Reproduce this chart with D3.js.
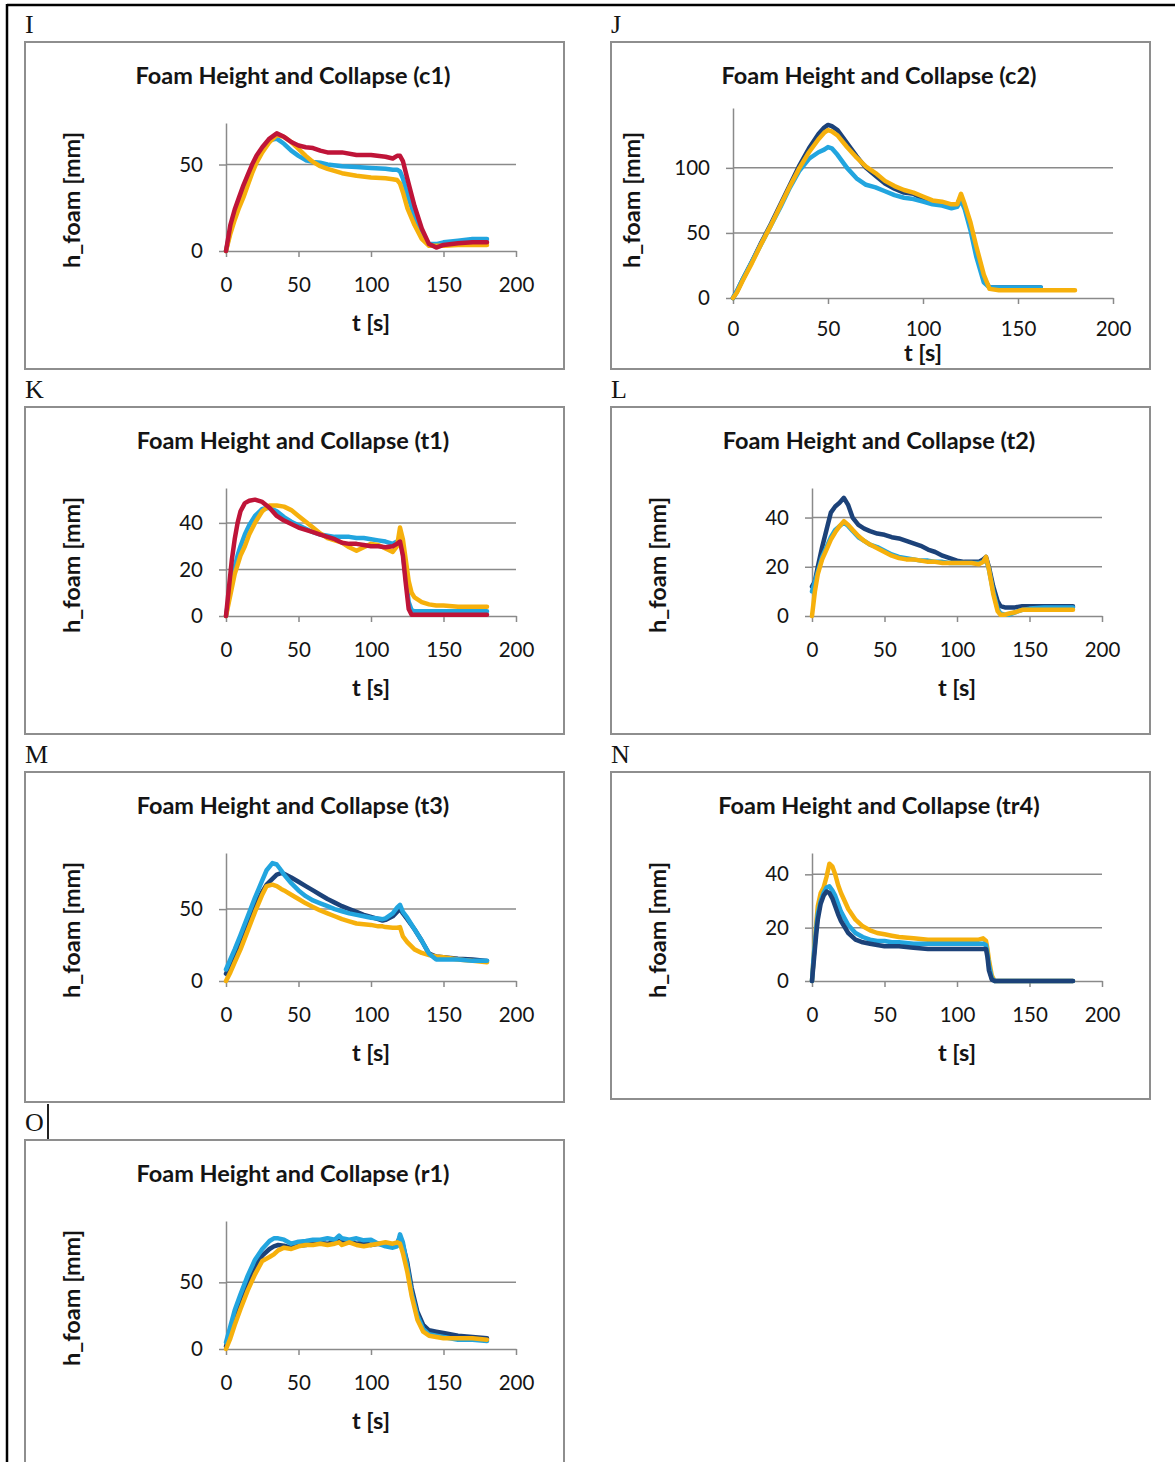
<!DOCTYPE html>
<html>
<head>
<meta charset="utf-8">
<script src="https://cdn.jsdelivr.net/npm/d3@7"></script>
<style>
body { margin: 0; background: #fff; }
svg { display: block; }
text { font-family: Lato, "Open Sans", sans-serif; fill: #141414; }
</style>
</head>
<body>
<div id="page"></div>
<script>
// ---- data (t in s, h_foam in mm) ----
var xTicks = [0, 50, 100, 150, 200];

// c1
var tC1 = [0,3,6,9,12,15,18,21,25,30,35,40,45,50,55,60,65,70,80,90,100,110,115,118,120,122,125,130,135,140,145,150,160,170,180];
var c1Blue = [0,12,20,27,33,40,47,53,59,64,65,62,58,55,52.5,51.5,51,50,49,48.5,48,47.5,47,47,46,42,33,20,10,4,4,5,6,7,7];
var c1Orange = [0,10,18,25,31,38,45,51,57,63,67,66,63,59,55,51.5,49,47.5,45,43.5,42.5,42,41.5,41,39,34,25,15,7,3,3,3,3.5,3.5,3.5];
var c1Red = [0,15,24,31,38,44,50,55,60,65,68,66,63,61,60,59.5,58,57,57,55.5,55.5,54.5,53.5,55,55,52,42,26,13,4,2,3.5,4.5,5,5];
var ticksC1 = [0, 50];
var yMaxC1 = 74;

// c2
var tC2 = [0,2,5,10,15,20,25,30,35,40,45,48,50,52,55,60,65,70,75,80,85,90,95,100,105,110,115,118,120,122,125,128,132,135,140,150,162,170,180];
var c2Navy = [0,5,14,28,43,57,72,87,102,115,126,131,133,132,129,119,109,100,94,88,84,81,80,76,74,73,71,72,78,70,55,36,15,8,8,8,8,null,null];
var c2Blue = [0,5,14,28,42,56,70,85,98,107,112,114,116,115,110,100,92,87,85,82,79,77,76,74,72,71,69,70,75,68,52,32,12,8,8,8,8,null,null];
var c2Orange = [0,4,13,27,42,56,71,86,100,112,122,127,129,128,125,116,108,101,96,90,86,83,81,78,75,74,72,72,80,72,58,40,18,7,6,6,6,6,6];
var ticksC2 = [0, 50, 100];
var yMaxC2 = 146;

// t1
var tT1 = [0,2,4,6,8,10,13,16,20,25,30,35,40,45,50,55,60,65,70,75,80,85,90,95,100,105,110,115,118,120,122,124,126,128,130,135,140,145,150,160,170,180];
var t1Blue = [0,8,15,21,26,30,35,39,43,46,46.5,45,42.5,40.5,39,37.5,36,35,34.5,34,34,34,33.5,33.5,33,32.5,32,31,32,33,27,16,6,2.5,2,2,2,2,2,2,2,2];
var t1Orange = [0,6,12,18,22,26,30,35,40,45,47.5,47.5,47,45.5,43,40.5,38,35.5,33.5,32.5,31.5,29.5,28,29.5,31,30.5,29,27.5,30,38,33,24,15,10,8,6,5,4.5,4.5,4,4,4];
var t1Red = [0,12,24,33,40,45,48.5,49.5,50,49,46.5,43,41,39.5,38,37,36,35,34,33,31.5,31,31,30.5,30,30,29.5,30,31,32,26,14,3,0.5,0.5,0.5,0.5,0.5,0.5,0.5,0.5,0.5];
var ticksT1 = [0, 20, 40];
var yMaxT1 = 55;

// t2
var tT2 = [0,2,4,7,10,13,16,19,22,25,28,32,36,40,45,50,55,60,65,70,75,80,85,90,95,100,105,110,115,118,120,122,125,128,130,133,136,140,145,150,160,170,180];
var t2Navy = [12,14,20,28,35,42,44.5,46,48,45,40,37,35.5,34.5,33.5,33,32,31.5,30.5,29.5,28.5,27,26,24.5,23.5,22.5,22,22,22,23,24,20,12,6,4,3.5,3.5,3.5,4,4,4,4,4];
var t2Blue = [10,14,18,24,28,32,35,36.5,38,36.5,34.5,32,30.5,29,28,26.5,25,24,23.5,23,22.5,22.5,22,22,21.5,21.5,21.5,21.5,21.5,22,23,19,10,3,1,0.5,0.5,1.5,2.5,3,3.5,3.5,3.5];
var t2Orange = [0,10,17,23,27,31,34,36.5,38.5,37,35,32.5,30.5,29,27.5,26,24.5,23.5,23,23,22.5,22,22,21.5,21.5,21.5,21.5,21.5,21,22,24,19,9,2,0.5,0.5,1,1.5,2.5,2.5,2.5,2.5,2.5];
var ticksT2 = [0, 20, 40];
var yMaxT2 = 52;

// t3
var tT3 = [0,3,6,10,15,20,25,28,32,35,38,40,45,50,55,60,65,70,75,80,85,90,95,100,105,108,110,115,118,120,122,125,130,135,140,145,150,160,170,180];
var t3Navy = [5,12,19,28,40,52,62,67,71,74,75,74.5,72,69,66,63,60,57,54.5,52,50,48,46,44.5,43,42,42.5,45,48,50,47,43,36,28,19,17,16.5,15.5,15,14];
var t3Orange = [0,6,13,22,35,48,60,66,67,66,64,63,60,57,54,51.5,49,47,45,43,41.5,40,39.5,39,38,38,37.5,37,37,37.5,31,27,22,19.5,18,17,16.5,15,14,13];
var t3Blue = [8,15,22,32,45,58,70,77,82,81,77,74,68,63,59,56,54,52,50,48.5,47,46,45,44,43.5,43,43.5,47,51,53,48,44,36,28,19,15,15,15,14,14];
var ticksT3 = [0, 50];
var yMaxT3 = 89;

// tr4
var tTr4 = [0,1,2,3,4,6,8,10,12,14,16,18,20,25,30,35,40,45,50,55,60,70,80,90,100,110,115,118,120,121,122,124,126,130,140,150,160,170,180];
var tr4Orange = [0,8,15,22,28,33,35,39,44,43,40,36,33,27,23,20.5,19,18,17.5,17,16.5,16,15.5,15.5,15.5,15.5,15.5,16,15,12,8,2,0,0,0,0,0,0,0];
var tr4Blue = [0,8,14,20,25,30,33,35,35.5,34,32,29,26,21,18,16.5,15.5,15,15,14.5,14.5,14,14,14,14,14,14,14,13.5,10,6,1,0,0,0,0,0,0,0];
var tr4Navy = [0,6,12,18,23,29,32,33.5,33,31,28,25,22.5,18,15.5,14.5,14,13.5,13,13,13,12.5,12,12,12,12,12,12,12,9,4,0.5,0,0,0,0,0,0,0];
var ticksTr4 = [0, 20, 40];
var yMaxTr4 = 48;

// r1
var tR1 = [0,3,6,10,15,20,25,30,33,36,40,45,50,55,60,65,70,75,78,80,85,90,95,100,105,110,115,118,120,122,125,128,132,136,140,145,150,160,170,180];
var r1Navy = [2,12,24,37,50,62,70,75,77,78,77.5,76,77.5,78,79,79.5,79,80,81,80,80.5,79,79.5,78,79,78,77.5,79,84,78,65,46,28,18,14,13,12,10,9,8];
var r1Blue = [5,17,29,41,55,67,75,81,83,83,82,79,80.5,81,82,82,83,82,85,83,82,83,81.5,82,79,77,76,77,86,80,62,42,25,15,11,10,9,7,7,6];
var r1Orange = [0,8,18,30,44,56,66,69,71,74,76,75,77,78,78,79,78,79,80,78,80,78,77,78,79,80,79,80,79,72,58,40,22,13,10,9,8,8,8,7];
var ticksR1 = [0, 50];
var yMaxR1 = 96;

var NAVY = '#1c4279', LBLUE = '#22a5df', ORANGE = '#f6b00c', RED = '#bf1438';

var W = 1175, H = 1462;
var svg = d3.select('#page').append('svg').attr('width', W).attr('height', H);

// page frame (document margin lines)
svg.append('line').attr('x1', 7).attr('y1', 5).attr('x2', W).attr('y2', 5)
	.attr('stroke', '#000').attr('stroke-width', 2.5);
svg.append('line').attr('x1', 7).attr('y1', 4).attr('x2', 7).attr('y2', H)
	.attr('stroke', '#000').attr('stroke-width', 2.5);

function drawPanel(p) {
	// letter above the box
	svg.append('text')
		.attr('x', p.x).attr('y', p.y - 9)
		.style('font-family', '"Liberation Serif", "DejaVu Serif", serif')
		.style('font-size', '26px')
		.text(p.letter);

	var g = svg.append('g').attr('transform', 'translate(' + p.x + ',' + p.y + ')');

	g.append('rect')
		.attr('x', 0).attr('y', 0)
		.attr('width', 539).attr('height', p.h)
		.attr('fill', '#fff')
		.attr('stroke', '#8e8e8e').attr('stroke-width', 2);

	var L = p.wide ? 122 : 201,
		R = p.wide ? 502 : 491,
		B = p.wide ? 256 : 209,
		T = p.wide ? 66 : 81;

	var x = d3.scaleLinear().domain([0, 200]).range([L, R]);
	var y = d3.scaleLinear().domain([0, p.yMax]).range([B, T]);

	// gridlines
	g.append('g').selectAll('line')
		.data(p.ticks.filter(function(d) { return d > 0; }))
		.enter().append('line')
		.attr('x1', L).attr('x2', R)
		.attr('y1', function(d) { return y(d); })
		.attr('y2', function(d) { return y(d); })
		.attr('stroke', '#8a8a8a').attr('stroke-width', 1.5);

	var yAxis = g.append('g').attr('transform', 'translate(' + L + ',0)')
		.call(d3.axisLeft(y).tickValues(p.ticks).tickSize(7).tickSizeOuter(0).tickPadding(16));
	var xAxis = g.append('g').attr('transform', 'translate(0,' + B + ')')
		.call(d3.axisBottom(x).tickValues(xTicks).tickSize(6).tickSizeOuter(0).tickPadding(p.wide ? 17 : 20));

	[yAxis, xAxis].forEach(function(a) {
		a.selectAll('path, line').attr('stroke', '#8a8a8a').attr('stroke-width', 1.5);
		a.selectAll('text').style('font-size', '20.5px').style('font-family', 'Lato, sans-serif').attr('fill', '#141414');
	});

	var line = d3.line()
		.defined(function(d) { return d[1] != null; })
		.x(function(d) { return x(d[0]); })
		.y(function(d) { return y(d[1]); });

	p.series.forEach(function(s) {
		var pts = p.t.map(function(t, i) { return [t, s[0][i]]; });
		g.append('path')
			.datum(pts)
			.attr('d', line)
			.attr('fill', 'none')
			.attr('stroke', s[1])
			.attr('stroke-width', 4.5)
			.attr('stroke-linejoin', 'round')
			.attr('stroke-linecap', 'round');
	});

	// titles
	g.append('text')
		.attr('x', 268).attr('y', 34).attr('dy', '0.35em')
		.attr('text-anchor', 'middle')
		.style('font-size', '23.5px').style('font-weight', 'bold')
		.text(p.title);

	g.append('text')
		.attr('x', (L + R) / 2).attr('y', p.wide ? 311 : 281).attr('dy', '0.35em')
		.attr('text-anchor', 'middle')
		.style('font-size', '23.5px').style('font-weight', 'bold')
		.text('t [s]');

	g.append('text')
		.attr('transform', 'translate(' + (p.wide ? 21 : 47) + ',158) rotate(-90)')
		.attr('dy', '0.35em')
		.attr('text-anchor', 'middle')
		.style('font-size', '23.5px').style('font-weight', 'bold')
		.text('h_foam [mm]');
}

drawPanel({ letter: 'I', x: 25, y: 42, h: 327, wide: false, title: 'Foam Height and Collapse (c1)',
	t: tC1, yMax: yMaxC1, ticks: ticksC1, series: [[c1Blue, LBLUE], [c1Orange, ORANGE], [c1Red, RED]] });
drawPanel({ letter: 'J', x: 611, y: 42, h: 327, wide: true, title: 'Foam Height and Collapse (c2)',
	t: tC2, yMax: yMaxC2, ticks: ticksC2, series: [[c2Navy, NAVY], [c2Blue, LBLUE], [c2Orange, ORANGE]] });
drawPanel({ letter: 'K', x: 25, y: 407, h: 327, wide: false, title: 'Foam Height and Collapse (t1)',
	t: tT1, yMax: yMaxT1, ticks: ticksT1, series: [[t1Blue, LBLUE], [t1Orange, ORANGE], [t1Red, RED]] });
drawPanel({ letter: 'L', x: 611, y: 407, h: 327, wide: false, title: 'Foam Height and Collapse (t2)',
	t: tT2, yMax: yMaxT2, ticks: ticksT2, series: [[t2Navy, NAVY], [t2Blue, LBLUE], [t2Orange, ORANGE]] });
drawPanel({ letter: 'M', x: 25, y: 772, h: 330, wide: false, title: 'Foam Height and Collapse (t3)',
	t: tT3, yMax: yMaxT3, ticks: ticksT3, series: [[t3Navy, NAVY], [t3Orange, ORANGE], [t3Blue, LBLUE]] });
drawPanel({ letter: 'N', x: 611, y: 772, h: 327, wide: false, title: 'Foam Height and Collapse (tr4)',
	t: tTr4, yMax: yMaxTr4, ticks: ticksTr4, series: [[tr4Orange, ORANGE], [tr4Blue, LBLUE], [tr4Navy, NAVY]] });
drawPanel({ letter: 'O', x: 25, y: 1140, h: 340, wide: false, title: 'Foam Height and Collapse (r1)',
	t: tR1, yMax: yMaxR1, ticks: ticksR1, series: [[r1Navy, NAVY], [r1Blue, LBLUE], [r1Orange, ORANGE]] });

// text cursor after the "O"
svg.append('line').attr('x1', 48).attr('y1', 1104).attr('x2', 48).attr('y2', 1139)
	.attr('stroke', '#222').attr('stroke-width', 2);
</script>
</body>
</html>
